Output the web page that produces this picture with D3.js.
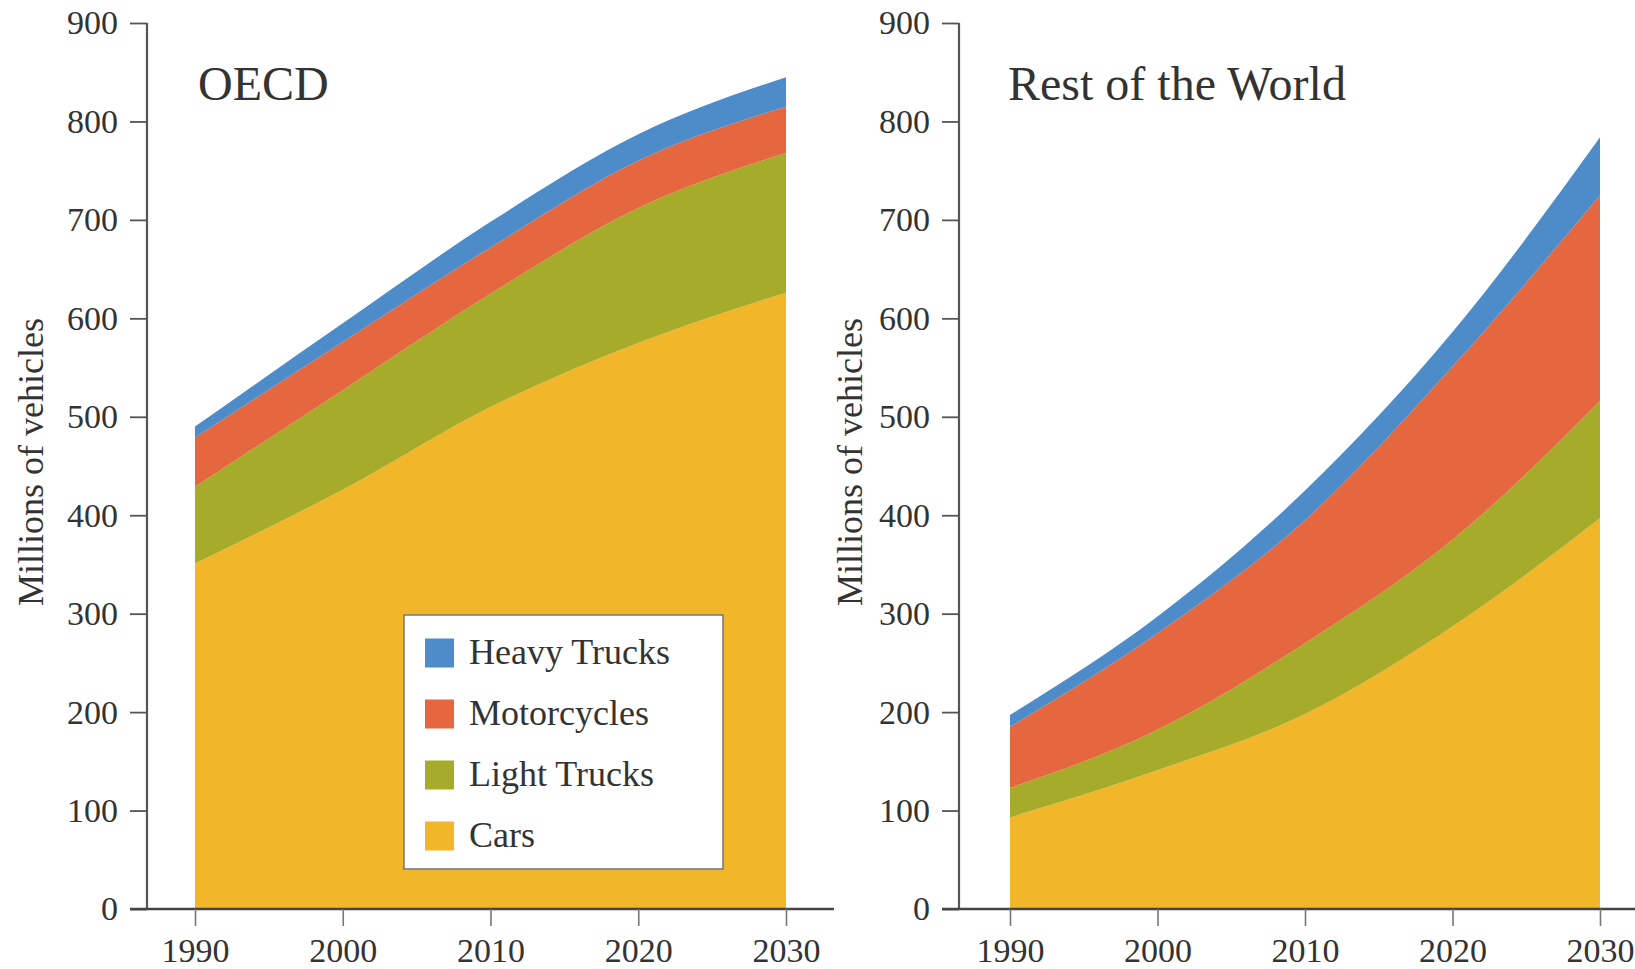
<!DOCTYPE html>
<html><head><meta charset="utf-8">
<script src="https://cdn.jsdelivr.net/npm/d3@7"></script>
<style>body{margin:0;background:#fff}svg{display:block}text{font-family:"Liberation Serif","DejaVu Serif",serif;fill:#333}</style>
</head><body>
<svg id="c" width="1635" height="969"></svg>
<script>
const years = [1990, 2000, 2010, 2020, 2030];
const seriesNames = ["Cars", "Light Trucks", "Motorcycles", "Heavy Trucks"];
const oecdCars = [351, 426, 510, 575, 626];
const oecdLightTrucks = [78, 101, 115, 137, 142];
const oecdMotorcycles = [50, 49, 47, 48, 47];
const oecdHeavyTrucks = [11, 19, 26, 27, 30];
const rowCars = [93, 141, 198, 287, 397];
const rowLightTrucks = [30, 41, 72, 88, 119];
const rowMotorcycles = [62, 98, 125, 176, 209];
const rowHeavyTrucks = [12, 17, 30, 35, 59];
const yTicks = [0, 100, 200, 300, 400, 500, 600, 700, 800, 900];
const colors = {"Cars": "#F2B62A", "Light Trucks": "#A6AB29", "Motorcycles": "#E5673F", "Heavy Trucks": "#4E8CC9"};

const svg = d3.select("#c");

function panel(cfg) {
  const data = years.map((yr, i) => ({year: yr, "Cars": cfg.vals[0][i], "Light Trucks": cfg.vals[1][i], "Motorcycles": cfg.vals[2][i], "Heavy Trucks": cfg.vals[3][i]}));
  const x = d3.scaleLinear().domain([1990, 2030]).range([cfg.x0, cfg.x1]);
  const y = d3.scaleLinear().domain([0, 900]).range([909, 23]);
  const stack = d3.stack().keys(seriesNames)(data);
  const area = d3.area().x(d => x(d.data.year)).y0(d => y(d[0])).y1(d => y(d[1])).curve(d3.curveMonotoneX);
  const g = svg.append("g");
  g.selectAll("path.a").data(stack).join("path").attr("class", "a")
    .attr("d", area).attr("fill", d => colors[d.key]);

  const ya = g.append("g").attr("transform", `translate(${cfg.ax},0)`)
    .call(d3.axisLeft(y).tickValues(yTicks).tickSize(17).tickPadding(12).tickFormat(d3.format("d")));
  ya.select(".domain").attr("stroke", "#555").attr("stroke-width", 2.2).attr("d", `M0,23V909`);
  ya.selectAll(".tick line").attr("stroke", "#555").attr("stroke-width", 1.8);
  ya.selectAll(".tick text").attr("font-size", 34).attr("font-family", "Liberation Serif").attr("fill", "#555");

  const xa = g.append("g").attr("transform", `translate(0,909)`)
    .call(d3.axisBottom(x).tickValues(years).tickSize(17).tickPadding(12).tickFormat(d3.format("d")));
  xa.select(".domain").attr("stroke", "#444").attr("stroke-width", 2.6).attr("d", `M${cfg.ax - 17},0H${cfg.xEnd}`);
  xa.selectAll(".tick line").attr("stroke", "#777").attr("stroke-width", 1.6);
  xa.selectAll(".tick text").attr("font-size", 34).attr("font-family", "Liberation Serif").attr("fill", "#555");

  g.append("text").attr("x", cfg.titleX).attr("y", 100).attr("font-size", 48).attr("fill", "#333").text(cfg.title);
  g.append("text").attr("transform", `translate(${cfg.ytX},462) rotate(-90)`).attr("text-anchor", "middle")
    .attr("font-size", 36).attr("fill", "#555").text("Millions of vehicles");
  return g;
}

panel({vals: [oecdCars, oecdLightTrucks, oecdMotorcycles, oecdHeavyTrucks], x0: 195, x1: 786, ax: 147, xEnd: 834, title: "OECD", titleX: 198, ytX: 43});
panel({vals: [rowCars, rowLightTrucks, rowMotorcycles, rowHeavyTrucks], x0: 1010, x1: 1600, ax: 959, xEnd: 1635, title: "Rest of the World", titleX: 1008, ytX: 862});

const lg = svg.append("g");
lg.append("rect").attr("x", 404).attr("y", 615).attr("width", 319).attr("height", 254)
  .attr("fill", "#fff").attr("stroke", "#777").attr("stroke-width", 1.5);
const legendOrder = ["Heavy Trucks", "Motorcycles", "Light Trucks", "Cars"];
legendOrder.forEach((k, i) => {
  const cy = 653 + i * 61;
  lg.append("rect").attr("x", 425).attr("y", cy - 14.5).attr("width", 29).attr("height", 29).attr("fill", colors[k]);
  lg.append("text").attr("x", 469).attr("y", cy + 11).attr("font-size", 36).attr("fill", "#333").text(k);
});
</script>
</body></html>
